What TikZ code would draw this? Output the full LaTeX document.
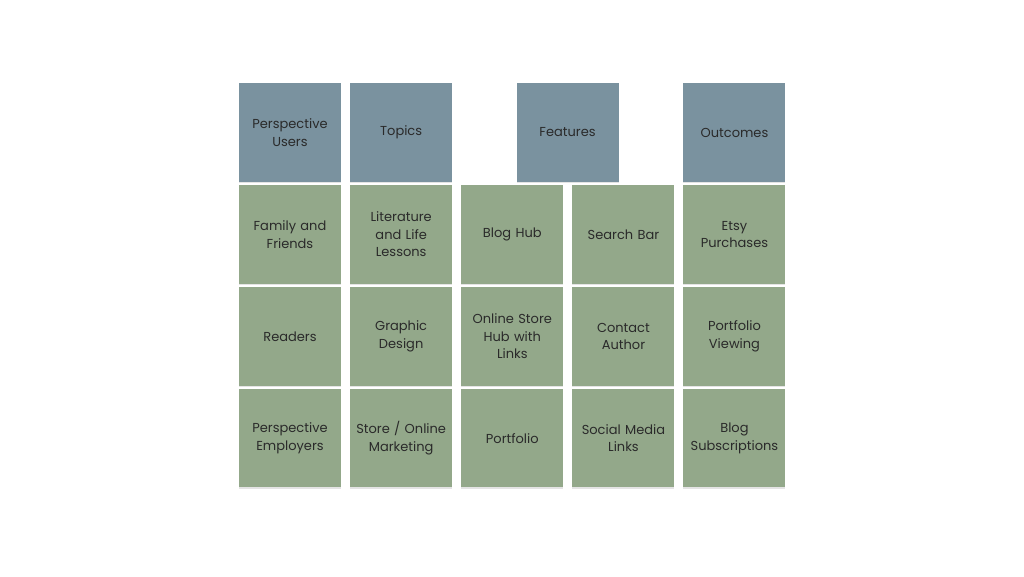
\documentclass[tikz,border=0pt]{standalone}
\usepackage{fontspec}
\setmainfont{Poppins}
\usetikzlibrary{positioning, shadows}
\definecolor{headblue}{HTML}{7A929F}
\definecolor{cellgreen}{HTML}{93A88A}
\definecolor{celltext}{HTML}{2A2A2A}

\begin{document}
\begin{tikzpicture}[
    x=1pt, y=1pt,
    card/.style ={minimum width=102pt, minimum height=98.5pt, inner sep=0pt,
                  align=center, text width=98pt, text=celltext,
                  font=\fontsize{13}{17.5}\selectfont,
                  drop shadow={shadow xshift=0pt, shadow yshift=-1.5pt,
                               opacity=0.3, fill=black!35}},
    head/.style ={card, fill=headblue},
    item/.style ={card, fill=cellgreen},
    node distance=3pt and 8.75pt,
]
\useasboundingbox (0,0) rectangle (1024,576);
% header row
\node[head] (persp) at (290,443.5) {Perspective\\Users};
\node[head, right=of persp]    (topics) {Topics};
\node[head, right=64pt of topics] (feat) {Features};
\node[head, right=64.5pt of feat] (outc) {Outcomes};
% first row
\node[item, below=of persp]  (family) {Family and\\Friends};
\node[item, below=of topics] (lit)    {Literature\\and Life\\Lessons};
\node[item, right=of lit]    (blog)   {Blog Hub};
\node[item, right=of blog]   (search) {Search Bar};
\node[item, below=of outc]   (etsy)   {Etsy\\Purchases};
% second row
\node[item, below=of family] (readers) {Readers};
\node[item, below=of lit]    (graphic) {Graphic\\Design};
\node[item, below=of blog]   (store)   {Online Store\\Hub with\\Links};
\node[item, below=of search] (contact) {Contact\\Author};
\node[item, below=of etsy]   (portv)   {Portfolio\\Viewing};
% third row
\node[item, below=of readers] (employ)  {Perspective\\Employers};
\node[item, below=of graphic] (market)  {Store / Online\\Marketing};
\node[item, below=of store]   (portf)   {Portfolio};
\node[item, below=of contact] (social)  {Social Media\\Links};
\node[item, below=of portv]   (subs)    {Blog\\Subscriptions};
\end{tikzpicture}
\end{document}
